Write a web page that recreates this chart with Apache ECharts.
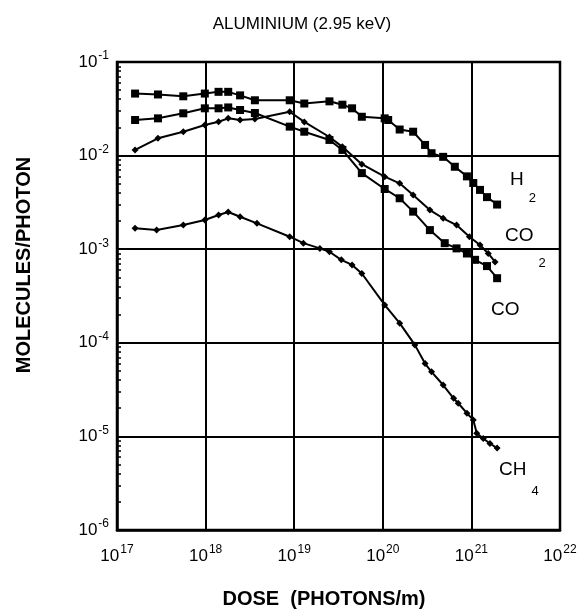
<!DOCTYPE html>
<html><head><meta charset="utf-8">
<script src="https://cdn.jsdelivr.net/npm/echarts@6/dist/echarts.min.js"></script>
<style>html,body{margin:0;padding:0;background:#fff}#c{width:588px;height:614px}</style>
</head><body><div id="c"></div>
<script>
// Tick exponents (labels are 10^exp)
const xTickExps = [17, 18, 19, 20, 21, 22];
const yTickExps = [-6, -5, -4, -3, -2, -1];

// H2
const h2Dose  = [1.6e17, 2.9e17, 5.6e17, 9.8e17, 1.4e18, 1.8e18, 2.45e18, 3.6e18, 8.9e18, 1.3e19, 2.5e19, 3.5e19, 4.5e19, 5.8e19, 1.05e20, 1.15e20, 1.55e20, 2.2e20, 3.0e20, 3.55e20, 4.8e20, 6.5e20, 8.9e20, 1.05e21, 1.25e21, 1.5e21, 1.95e21];
const h2Yield = [4.6e-2, 4.5e-2, 4.3e-2, 4.6e-2, 4.8e-2, 4.8e-2, 4.4e-2, 3.9e-2, 3.9e-2, 3.6e-2, 3.8e-2, 3.5e-2, 3.2e-2, 2.6e-2, 2.5e-2, 2.4e-2, 1.9e-2, 1.8e-2, 1.3e-2, 1.06e-2, 9.7e-3, 7.6e-3, 6.0e-3, 5.1e-3, 4.3e-3, 3.6e-3, 3.0e-3];

// CO2
const co2Dose  = [1.6e17, 2.9e17, 5.6e17, 9.8e17, 1.4e18, 1.8e18, 2.45e18, 3.6e18, 8.9e18, 1.3e19, 2.5e19, 3.5e19, 5.8e19, 1.05e20, 1.55e20, 2.2e20, 3.4e20, 4.8e20, 6.8e20, 9.5e20, 1.25e21, 1.55e21, 1.85e21];
const co2Yield = [1.15e-2, 1.53e-2, 1.8e-2, 2.12e-2, 2.3e-2, 2.5e-2, 2.4e-2, 2.46e-2, 2.94e-2, 2.29e-2, 1.58e-2, 1.24e-2, 8.1e-3, 5.95e-3, 5.06e-3, 3.79e-3, 2.62e-3, 2.14e-3, 1.81e-3, 1.36e-3, 1.11e-3, 9.0e-4, 7.3e-4];

// CO
const coDose  = [1.6e17, 2.9e17, 5.6e17, 9.8e17, 1.4e18, 1.8e18, 2.45e18, 3.6e18, 8.9e18, 1.3e19, 2.5e19, 3.5e19, 5.8e19, 1.05e20, 1.55e20, 2.2e20, 3.4e20, 5.0e20, 6.8e20, 8.9e20, 1.1e21, 1.5e21, 1.95e21];
const coYield = [2.4e-2, 2.5e-2, 2.83e-2, 3.2e-2, 3.2e-2, 3.27e-2, 3.07e-2, 2.85e-2, 2.04e-2, 1.8e-2, 1.47e-2, 1.15e-2, 6.5e-3, 4.4e-3, 3.5e-3, 2.52e-3, 1.6e-3, 1.16e-3, 1.02e-3, 9.0e-4, 7.7e-4, 6.6e-4, 4.9e-4];

// CH4
const ch4Dose  = [1.6e17, 2.8e17, 5.6e17, 9.8e17, 1.4e18, 1.8e18, 2.45e18, 3.8e18, 8.9e18, 1.27e19, 1.95e19, 2.5e19, 3.4e19, 4.5e19, 5.8e19, 1.05e20, 1.55e20, 2.3e20, 3.0e20, 3.55e20, 4.8e20, 6.3e20, 7.1e20, 8.9e20, 1.05e21, 1.15e21, 1.36e21, 1.62e21, 1.95e21];
const ch4Yield = [1.67e-3, 1.6e-3, 1.81e-3, 2.05e-3, 2.32e-3, 2.5e-3, 2.22e-3, 1.89e-3, 1.36e-3, 1.16e-3, 1.02e-3, 9.4e-4, 7.7e-4, 6.8e-4, 5.5e-4, 2.54e-4, 1.62e-4, 9.5e-5, 6.0e-5, 4.9e-5, 3.54e-5, 2.55e-5, 2.26e-5, 1.77e-5, 1.5e-5, 1.08e-5, 9.5e-6, 8.4e-6, 7.5e-6];

const F = '"Liberation Sans", Arial, Helvetica, sans-serif';
const pair = (d, y) => d.map((v, i) => [v, y[i]]);
const expOf = v => Math.round(Math.log10(v));
const tickLabel = v => '{b|10}{s|' + expOf(v) + '}';
const richTick = {
  b: { fontFamily: F, fontSize: 17, color: '#000' },
  s: { fontFamily: F, fontSize: 12, color: '#000', padding: [0, 0, 12, 1] }
};
const subRich = (drop) => ({
  m: { fontFamily: F, fontSize: 19, fill: '#000' },
  sub: { fontFamily: F, fontSize: 13, fill: '#000', padding: [drop, 0, 0, 5] }
});

const chart = echarts.init(document.getElementById('c'));
const lineBase = { color: '#000', width: 2 };
chart.setOption({
  animation: false,
  backgroundColor: '#fff',
  title: {
    text: 'ALUMINIUM (2.95 keV)', left: 297, top: 11, textAlign: 'center',
    textStyle: { fontFamily: F, fontSize: 17, fontWeight: 'normal', color: '#000' }
  },
  grid: { left: 117, right: 28, top: 62, bottom: 84, show: true, borderColor: '#000', borderWidth: 2.5, backgroundColor: 'transparent' },
  xAxis: {
    type: 'log', logBase: 10, min: Math.pow(10, xTickExps[0]), max: Math.pow(10, xTickExps[xTickExps.length - 1]), interval: 1,
    axisLine: { show: true, lineStyle: { color: '#000', width: 2.5 } },
    axisTick: { show: false },
    splitLine: { show: true, lineStyle: { color: '#000', width: 2 } },
    axisLabel: { formatter: tickLabel, rich: richTick, margin: 14 }
  },
  yAxis: {
    type: 'log', logBase: 10, min: Math.pow(10, yTickExps[0]), max: Math.pow(10, yTickExps[yTickExps.length - 1]), interval: 1,
    axisLine: { show: true, lineStyle: { color: '#000', width: 2.5 } },
    axisTick: { show: true, inside: true, length: 5, lineStyle: { color: '#000', width: 2 } },
    minorTick: { show: true, splitNumber: 9, length: 4, lineStyle: { color: '#000', width: 1.5 } },
    splitLine: { show: true, lineStyle: { color: '#000', width: 2 } },
    axisLabel: { formatter: tickLabel, rich: richTick, margin: 8 }
  },
  series: [
    { name: 'H2', type: 'line', data: pair(h2Dose, h2Yield), symbol: 'rect', symbolSize: 8, lineStyle: lineBase, itemStyle: { color: '#000' } },
    { name: 'CO2', type: 'line', data: pair(co2Dose, co2Yield), symbol: 'diamond', symbolSize: 7, lineStyle: lineBase, itemStyle: { color: '#000' } },
    { name: 'CO', type: 'line', data: pair(coDose, coYield), symbol: 'rect', symbolSize: 8, lineStyle: lineBase, itemStyle: { color: '#000' } },
    { name: 'CH4', type: 'line', data: pair(ch4Dose, ch4Yield), symbol: 'diamond', symbolSize: 7, lineStyle: lineBase, itemStyle: { color: '#000' } }
  ],
  graphic: [
    { type: 'text', left: 510, top: 170, style: { text: '{m|H}{sub|2}', rich: subRich(38) } },
    { type: 'text', left: 505, top: 226, style: { text: '{m|CO}{sub|2}', rich: subRich(56) } },
    { type: 'text', left: 491, top: 300, style: { text: 'CO', font: '19px ' + F, fill: '#000' } },
    { type: 'text', left: 499, top: 460, style: { text: '{m|CH}{sub|4}', rich: subRich(44) } },
    { type: 'text', x: 24, y: 265, rotation: Math.PI / 2, style: { text: 'MOLECULES/PHOTON', font: 'bold 20px ' + F, fill: '#000', align: 'center', verticalAlign: 'middle' } },
    { type: 'text', x: 324, y: 599, style: { text: 'DOSE  (PHOTONS/m)', font: 'bold 20px ' + F, fill: '#000', align: 'center', verticalAlign: 'middle' } }
  ]
});
</script>
</body></html>
